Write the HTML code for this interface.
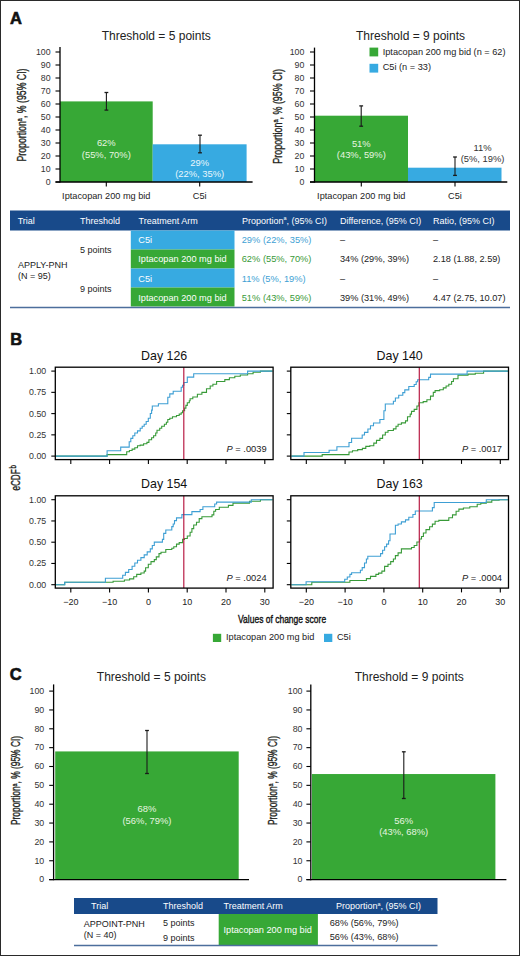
<!DOCTYPE html><html><head><meta charset="utf-8"><style>html,body{margin:0;padding:0;background:#fff;}svg{display:block;font-family:"Liberation Sans",sans-serif;}</style></head><body>
<svg width="520" height="956" viewBox="0 0 520 956">
<rect x="0" y="0" width="520" height="956" fill="#fff"/>
<text x="10" y="23.7" font-size="16.5" text-anchor="start" fill="#111" font-weight="bold" stroke="#111" stroke-width="0.6">A</text>
<line x1="55.5" y1="182.0" x2="60" y2="182.0" stroke="#000" stroke-width="1.1"/>
<text x="50.6" y="184.8" font-size="8.8" text-anchor="end" fill="#333" font-weight="normal" >0</text>
<line x1="55.5" y1="169.0" x2="60" y2="169.0" stroke="#000" stroke-width="1.1"/>
<text x="50.6" y="171.8" font-size="8.8" text-anchor="end" fill="#333" font-weight="normal" >10</text>
<line x1="55.5" y1="156.0" x2="60" y2="156.0" stroke="#000" stroke-width="1.1"/>
<text x="50.6" y="158.8" font-size="8.8" text-anchor="end" fill="#333" font-weight="normal" >20</text>
<line x1="55.5" y1="143.0" x2="60" y2="143.0" stroke="#000" stroke-width="1.1"/>
<text x="50.6" y="145.8" font-size="8.8" text-anchor="end" fill="#333" font-weight="normal" >30</text>
<line x1="55.5" y1="130.0" x2="60" y2="130.0" stroke="#000" stroke-width="1.1"/>
<text x="50.6" y="132.8" font-size="8.8" text-anchor="end" fill="#333" font-weight="normal" >40</text>
<line x1="55.5" y1="117.0" x2="60" y2="117.0" stroke="#000" stroke-width="1.1"/>
<text x="50.6" y="119.8" font-size="8.8" text-anchor="end" fill="#333" font-weight="normal" >50</text>
<line x1="55.5" y1="104.0" x2="60" y2="104.0" stroke="#000" stroke-width="1.1"/>
<text x="50.6" y="106.8" font-size="8.8" text-anchor="end" fill="#333" font-weight="normal" >60</text>
<line x1="55.5" y1="91.0" x2="60" y2="91.0" stroke="#000" stroke-width="1.1"/>
<text x="50.6" y="93.8" font-size="8.8" text-anchor="end" fill="#333" font-weight="normal" >70</text>
<line x1="55.5" y1="78.0" x2="60" y2="78.0" stroke="#000" stroke-width="1.1"/>
<text x="50.6" y="80.8" font-size="8.8" text-anchor="end" fill="#333" font-weight="normal" >80</text>
<line x1="55.5" y1="65.0" x2="60" y2="65.0" stroke="#000" stroke-width="1.1"/>
<text x="50.6" y="67.8" font-size="8.8" text-anchor="end" fill="#333" font-weight="normal" >90</text>
<line x1="55.5" y1="52.0" x2="60" y2="52.0" stroke="#000" stroke-width="1.1"/>
<text x="50.6" y="54.8" font-size="8.8" text-anchor="end" fill="#333" font-weight="normal" >100</text>
<rect x="60" y="101.39999999999999" width="92.69999999999999" height="80.60000000000001" fill="#37a836"/>
<rect x="152.7" y="144.3" width="93.9" height="37.69999999999999" fill="#37aae1"/>
<line x1="106.4" y1="92.5" x2="106.4" y2="110.1" stroke="#1a1a1a" stroke-width="1.1"/>
<line x1="104.5" y1="92.5" x2="108.30000000000001" y2="92.5" stroke="#1a1a1a" stroke-width="1.3"/>
<line x1="104.5" y1="110.1" x2="108.30000000000001" y2="110.1" stroke="#1a1a1a" stroke-width="1.3"/>
<line x1="200" y1="135.2" x2="200" y2="152.8" stroke="#1a1a1a" stroke-width="1.1"/>
<line x1="198.1" y1="135.2" x2="201.9" y2="135.2" stroke="#1a1a1a" stroke-width="1.3"/>
<line x1="198.1" y1="152.8" x2="201.9" y2="152.8" stroke="#1a1a1a" stroke-width="1.3"/>
<line x1="60" y1="47" x2="60" y2="182.6" stroke="#000" stroke-width="1.3"/>
<line x1="55.5" y1="182" x2="252.6" y2="182" stroke="#000" stroke-width="1.3"/>
<text x="156.2" y="39.6" font-size="12" text-anchor="middle" fill="#222" font-weight="normal" >Threshold = 5 points</text>
<line x1="106.3" y1="182" x2="106.3" y2="186.5" stroke="#000" stroke-width="1.1"/>
<line x1="199.7" y1="182" x2="199.7" y2="186.5" stroke="#000" stroke-width="1.1"/>
<text x="106.3" y="198.5" font-size="9.2" text-anchor="middle" fill="#222" font-weight="normal" >Iptacopan 200 mg bid</text>
<text x="199.7" y="198.5" font-size="9.2" text-anchor="middle" fill="#222" font-weight="normal" >C5i</text>
<text x="106.3" y="146.3" font-size="9.4" text-anchor="middle" fill="#e8f5e0" font-weight="normal" >62%</text>
<text x="106.3" y="157.9" font-size="9.4" text-anchor="middle" fill="#e8f5e0" font-weight="normal" >(55%, 70%)</text>
<text x="199.7" y="165.5" font-size="9.4" text-anchor="middle" fill="#eaf6fc" font-weight="normal" >29%</text>
<text x="199.7" y="177.0" font-size="9.4" text-anchor="middle" fill="#eaf6fc" font-weight="normal" >(22%, 35%)</text>
<text transform="translate(25.8,115) rotate(-90) scale(0.73,1)" font-size="12" text-anchor="middle" fill="#231f20" stroke="#231f20" stroke-width="0.35">Proportion<tspan font-size="7.5" dy="-3.8">a</tspan><tspan dy="3.8">, % (95% CI)</tspan></text>
<line x1="310" y1="182.0" x2="314.5" y2="182.0" stroke="#000" stroke-width="1.1"/>
<text x="304.4" y="184.8" font-size="8.8" text-anchor="end" fill="#333" font-weight="normal" >0</text>
<line x1="310" y1="169.0" x2="314.5" y2="169.0" stroke="#000" stroke-width="1.1"/>
<text x="304.4" y="171.8" font-size="8.8" text-anchor="end" fill="#333" font-weight="normal" >10</text>
<line x1="310" y1="156.0" x2="314.5" y2="156.0" stroke="#000" stroke-width="1.1"/>
<text x="304.4" y="158.8" font-size="8.8" text-anchor="end" fill="#333" font-weight="normal" >20</text>
<line x1="310" y1="143.0" x2="314.5" y2="143.0" stroke="#000" stroke-width="1.1"/>
<text x="304.4" y="145.8" font-size="8.8" text-anchor="end" fill="#333" font-weight="normal" >30</text>
<line x1="310" y1="130.0" x2="314.5" y2="130.0" stroke="#000" stroke-width="1.1"/>
<text x="304.4" y="132.8" font-size="8.8" text-anchor="end" fill="#333" font-weight="normal" >40</text>
<line x1="310" y1="117.0" x2="314.5" y2="117.0" stroke="#000" stroke-width="1.1"/>
<text x="304.4" y="119.8" font-size="8.8" text-anchor="end" fill="#333" font-weight="normal" >50</text>
<line x1="310" y1="104.0" x2="314.5" y2="104.0" stroke="#000" stroke-width="1.1"/>
<text x="304.4" y="106.8" font-size="8.8" text-anchor="end" fill="#333" font-weight="normal" >60</text>
<line x1="310" y1="91.0" x2="314.5" y2="91.0" stroke="#000" stroke-width="1.1"/>
<text x="304.4" y="93.8" font-size="8.8" text-anchor="end" fill="#333" font-weight="normal" >70</text>
<line x1="310" y1="78.0" x2="314.5" y2="78.0" stroke="#000" stroke-width="1.1"/>
<text x="304.4" y="80.8" font-size="8.8" text-anchor="end" fill="#333" font-weight="normal" >80</text>
<line x1="310" y1="65.0" x2="314.5" y2="65.0" stroke="#000" stroke-width="1.1"/>
<text x="304.4" y="67.8" font-size="8.8" text-anchor="end" fill="#333" font-weight="normal" >90</text>
<line x1="310" y1="52.0" x2="314.5" y2="52.0" stroke="#000" stroke-width="1.1"/>
<text x="304.4" y="54.8" font-size="8.8" text-anchor="end" fill="#333" font-weight="normal" >100</text>
<rect x="314.5" y="115.7" width="93.5" height="66.3" fill="#37a836"/>
<rect x="408" y="167.7" width="93.5" height="14.300000000000011" fill="#37aae1"/>
<line x1="361.2" y1="105.9" x2="361.2" y2="126.2" stroke="#1a1a1a" stroke-width="1.1"/>
<line x1="359.3" y1="105.9" x2="363.09999999999997" y2="105.9" stroke="#1a1a1a" stroke-width="1.3"/>
<line x1="359.3" y1="126.2" x2="363.09999999999997" y2="126.2" stroke="#1a1a1a" stroke-width="1.3"/>
<line x1="455" y1="157" x2="455" y2="175.4" stroke="#1a1a1a" stroke-width="1.1"/>
<line x1="453.1" y1="157" x2="456.9" y2="157" stroke="#1a1a1a" stroke-width="1.3"/>
<line x1="453.1" y1="175.4" x2="456.9" y2="175.4" stroke="#1a1a1a" stroke-width="1.3"/>
<line x1="314.5" y1="47.6" x2="314.5" y2="182.6" stroke="#000" stroke-width="1.3"/>
<line x1="310" y1="182" x2="507.3" y2="182" stroke="#000" stroke-width="1.3"/>
<text x="410.5" y="39.5" font-size="12" text-anchor="middle" fill="#222" font-weight="normal" >Threshold = 9 points</text>
<line x1="361.3" y1="182" x2="361.3" y2="186.5" stroke="#000" stroke-width="1.1"/>
<line x1="455" y1="182" x2="455" y2="186.5" stroke="#000" stroke-width="1.1"/>
<text x="361.3" y="198.5" font-size="9.2" text-anchor="middle" fill="#222" font-weight="normal" >Iptacopan 200 mg bid</text>
<text x="455" y="198.5" font-size="9.2" text-anchor="middle" fill="#222" font-weight="normal" >C5i</text>
<text x="361.3" y="146.8" font-size="9.4" text-anchor="middle" fill="#e8f5e0" font-weight="normal" >51%</text>
<text x="361.3" y="158.3" font-size="9.4" text-anchor="middle" fill="#e8f5e0" font-weight="normal" >(43%, 59%)</text>
<text x="482.6" y="150.9" font-size="9.4" text-anchor="middle" fill="#333" font-weight="normal" >11%</text>
<text x="482.6" y="162.1" font-size="9.4" text-anchor="middle" fill="#333" font-weight="normal" >(5%, 19%)</text>
<text transform="translate(281.8,116.3) rotate(-90) scale(0.743,1)" font-size="12" text-anchor="middle" fill="#231f20" stroke="#231f20" stroke-width="0.35">Proportion<tspan font-size="7.5" dy="-3.8">a</tspan><tspan dy="3.8">, % (95% CI)</tspan></text>
<rect x="369.5" y="47.6" width="8.7" height="8.8" fill="#37a836"/>
<rect x="369.5" y="63.8" width="8.7" height="8.8" fill="#37aae1"/>
<text x="382.7" y="54.9" font-size="9.2" text-anchor="start" fill="#222" font-weight="normal" >Iptacopan 200 mg bid (n = 62)</text>
<text x="382.7" y="70.0" font-size="9.2" text-anchor="start" fill="#222" font-weight="normal" >C5i (n = 33)</text>
<rect x="10" y="210.5" width="500" height="20" fill="#184a8a"/>
<text x="17.7" y="223.8" font-size="9" text-anchor="start" fill="#ffffff" font-weight="normal" >Trial</text>
<text x="80" y="223.8" font-size="9" text-anchor="start" fill="#ffffff" font-weight="normal" >Threshold</text>
<text x="138.5" y="223.8" font-size="9" text-anchor="start" fill="#ffffff" font-weight="normal" >Treatment Arm</text>
<text x="242" y="223.8" font-size="9" text-anchor="start" fill="#ffffff" font-weight="normal" >Proportion<tspan font-size="5.5" dy="-3.5">a</tspan><tspan dy="3.5">, (95% CI)</tspan></text>
<text x="340" y="223.8" font-size="9" text-anchor="start" fill="#ffffff" font-weight="normal" >Difference, (95% CI)</text>
<text x="433" y="223.8" font-size="9" text-anchor="start" fill="#ffffff" font-weight="normal" >Ratio, (95% CI)</text>
<rect x="130.8" y="230.5" width="103.7" height="19.0" fill="#37aae1"/>
<text x="138.3" y="243.2" font-size="9.2" text-anchor="start" fill="#ffffff" font-weight="normal" >C5i</text>
<rect x="130.8" y="249.5" width="103.7" height="19.0" fill="#37a836"/>
<text x="138.3" y="262.3" font-size="9.2" text-anchor="start" fill="#ffffff" font-weight="normal" >Iptacopan 200 mg bid</text>
<rect x="130.8" y="268.5" width="103.7" height="19.0" fill="#37aae1"/>
<text x="138.3" y="281.8" font-size="9.2" text-anchor="start" fill="#ffffff" font-weight="normal" >C5i</text>
<rect x="130.8" y="287.5" width="103.7" height="19.0" fill="#37a836"/>
<text x="138.3" y="301.0" font-size="9.2" text-anchor="start" fill="#ffffff" font-weight="normal" >Iptacopan 200 mg bid</text>
<text x="241.7" y="243.2" font-size="9.3" text-anchor="start" fill="#3e9fd4" font-weight="normal" >29% (22%, 35%)</text>
<text x="241.7" y="262.3" font-size="9.3" text-anchor="start" fill="#389a38" font-weight="normal" >62% (55%, 70%)</text>
<text x="241.7" y="281.8" font-size="9.3" text-anchor="start" fill="#3e9fd4" font-weight="normal" >11% (5%, 19%)</text>
<text x="241.7" y="301.0" font-size="9.3" text-anchor="start" fill="#389a38" font-weight="normal" >51% (43%, 59%)</text>
<text x="340" y="243.2" font-size="9.2" text-anchor="start" fill="#222" font-weight="normal" >–</text>
<text x="433" y="243.2" font-size="9.2" text-anchor="start" fill="#222" font-weight="normal" >–</text>
<text x="340" y="262.3" font-size="9.2" text-anchor="start" fill="#222" font-weight="normal" >34% (29%, 39%)</text>
<text x="433" y="262.3" font-size="9.2" text-anchor="start" fill="#222" font-weight="normal" >2.18 (1.88, 2.59)</text>
<text x="340" y="281.8" font-size="9.2" text-anchor="start" fill="#222" font-weight="normal" >–</text>
<text x="433" y="281.8" font-size="9.2" text-anchor="start" fill="#222" font-weight="normal" >–</text>
<text x="340" y="301.0" font-size="9.2" text-anchor="start" fill="#222" font-weight="normal" >39% (31%, 49%)</text>
<text x="433" y="301.0" font-size="9.2" text-anchor="start" fill="#222" font-weight="normal" >4.47 (2.75, 10.07)</text>
<text x="18" y="267.6" font-size="9" text-anchor="start" fill="#222" font-weight="normal" >APPLY-PNH</text>
<text x="18" y="278.8" font-size="9" text-anchor="start" fill="#222" font-weight="normal" >(N = 95)</text>
<text x="80" y="253.0" font-size="9" text-anchor="start" fill="#222" font-weight="normal" >5 points</text>
<text x="80" y="291.6" font-size="9" text-anchor="start" fill="#222" font-weight="normal" >9 points</text>
<line x1="10" y1="307.6" x2="510" y2="307.6" stroke="#4c6e9c" stroke-width="1.5"/>
<text x="10.3" y="344.6" font-size="16.5" text-anchor="start" fill="#111" font-weight="bold" stroke="#111" stroke-width="0.6">B</text>
<text x="164.20000000000002" y="359.5" font-size="12.4" text-anchor="middle" fill="#111" font-weight="normal" >Day 126</text>
<line x1="51.3" y1="456.1" x2="55.3" y2="456.1" stroke="#000" stroke-width="1.1"/>
<text x="46.2" y="459.0" font-size="8.8" text-anchor="end" fill="#333" font-weight="normal" >0.00</text>
<line x1="51.3" y1="434.85" x2="55.3" y2="434.85" stroke="#000" stroke-width="1.1"/>
<text x="46.2" y="437.75" font-size="8.8" text-anchor="end" fill="#333" font-weight="normal" >0.25</text>
<line x1="51.3" y1="413.6" x2="55.3" y2="413.6" stroke="#000" stroke-width="1.1"/>
<text x="46.2" y="416.5" font-size="8.8" text-anchor="end" fill="#333" font-weight="normal" >0.50</text>
<line x1="51.3" y1="392.35" x2="55.3" y2="392.35" stroke="#000" stroke-width="1.1"/>
<text x="46.2" y="395.25" font-size="8.8" text-anchor="end" fill="#333" font-weight="normal" >0.75</text>
<line x1="51.3" y1="371.1" x2="55.3" y2="371.1" stroke="#000" stroke-width="1.1"/>
<text x="46.2" y="374.0" font-size="8.8" text-anchor="end" fill="#333" font-weight="normal" >1.00</text>
<line x1="70.80000000000001" y1="459.6" x2="70.80000000000001" y2="463.90000000000003" stroke="#000" stroke-width="1.1"/>
<line x1="109.60000000000001" y1="459.6" x2="109.60000000000001" y2="463.90000000000003" stroke="#000" stroke-width="1.1"/>
<line x1="148.4" y1="459.6" x2="148.4" y2="463.90000000000003" stroke="#000" stroke-width="1.1"/>
<line x1="187.2" y1="459.6" x2="187.2" y2="463.90000000000003" stroke="#000" stroke-width="1.1"/>
<line x1="226.0" y1="459.6" x2="226.0" y2="463.90000000000003" stroke="#000" stroke-width="1.1"/>
<line x1="264.8" y1="459.6" x2="264.8" y2="463.90000000000003" stroke="#000" stroke-width="1.1"/>
<path d="M55.9,456.1 H107.1 V454.6 H126.7 V451.8 H129.4 V450.5 H132.1 V449.1 H134.8 V447.8 H137.5 V445.8 H140.2 V445.1 H143.6 V443.7 H146.9 V442.4 H148.9 V439.7 H151.6 V437.7 H153.6 V435.7 H155.7 V433 H157 V430.3 H159.7 V428.3 H161.7 V426.2 H164.4 V424.2 H166.4 V422.2 H167.8 V419.5 H169.8 V418.2 H172.5 V416.8 H176.5 V415.5 H179.2 V414.1 H181.2 V412.8 H182.6 V410.8 H184.6 V408.1 H185.9 V405.4 H187.3 V402.7 H189.3 V400.7 H190.1 V398.8 H192.8 V397 H197.4 V394.3 H201.9 V392.4 H206.5 V388.8 H210.2 V386 H212.9 V384.2 H216.6 V381.5 H224.8 V379.6 H229.4 V377.8 H234.8 V376.3 H240.3 V375 H247.6 V373.8 H253.1 V372.3 H260.4 V371.1 H272.5" fill="none" stroke="#389a38" stroke-width="1.1"/>
<path d="M55.9,456.1 H107.1 V450.8 H120.7 V447.1 H129.2 V441.7 H130.8 V438.4 H132.8 V435.7 H134.8 V433 H137.5 V430.9 H140.2 V428.3 H142.2 V426.2 H144.2 V424.2 H146.2 V421.5 H148.3 V418.2 H150.3 V413.5 H151.6 V410.1 H152.3 V406 H158.4 V403.8 H167.8 V397.3 H169.8 V393.9 H173.2 V391.2 H181.2 V387.2 H182.6 V385.2 H183.9 V382.5 H187.3 V377.1 H193.7 V373.8 H247.6 V371.1 H272.5" fill="none" stroke="#3e9fd4" stroke-width="1.1"/>
<line x1="183.8" y1="367.2" x2="183.8" y2="459.6" stroke="#b81c45" stroke-width="1.2"/>
<rect x="55.3" y="367.2" width="217.8" height="92.40000000000003" fill="none" stroke="#000" stroke-width="1.3"/>
<text x="266.6" y="452.0" font-size="9.3" text-anchor="end" fill="#222" font-weight="normal" ><tspan font-style="italic">P</tspan> = .0039</text>
<text x="399.65" y="359.5" font-size="12.4" text-anchor="middle" fill="#111" font-weight="normal" >Day 140</text>
<line x1="286.8" y1="456.1" x2="290.8" y2="456.1" stroke="#000" stroke-width="1.1"/>
<line x1="286.8" y1="434.85" x2="290.8" y2="434.85" stroke="#000" stroke-width="1.1"/>
<line x1="286.8" y1="413.6" x2="290.8" y2="413.6" stroke="#000" stroke-width="1.1"/>
<line x1="286.8" y1="392.35" x2="290.8" y2="392.35" stroke="#000" stroke-width="1.1"/>
<line x1="286.8" y1="371.1" x2="290.8" y2="371.1" stroke="#000" stroke-width="1.1"/>
<line x1="306.29999999999995" y1="459.6" x2="306.29999999999995" y2="463.90000000000003" stroke="#000" stroke-width="1.1"/>
<line x1="345.09999999999997" y1="459.6" x2="345.09999999999997" y2="463.90000000000003" stroke="#000" stroke-width="1.1"/>
<line x1="383.9" y1="459.6" x2="383.9" y2="463.90000000000003" stroke="#000" stroke-width="1.1"/>
<line x1="422.7" y1="459.6" x2="422.7" y2="463.90000000000003" stroke="#000" stroke-width="1.1"/>
<line x1="461.5" y1="459.6" x2="461.5" y2="463.90000000000003" stroke="#000" stroke-width="1.1"/>
<line x1="500.29999999999995" y1="459.6" x2="500.29999999999995" y2="463.90000000000003" stroke="#000" stroke-width="1.1"/>
<path d="M291.40000000000003,456.1 H322.2 V454.6 H349 V452 H352.5 V450.8 H357.7 V449.6 H362.4 V448.4 H365.8 V446.4 H369.8 V445.8 H373.8 V443.1 H376.5 V440.4 H379.9 V438.4 H382.6 V435 H385.3 V432.3 H388 V430.5 H393.4 V428.9 H396 V426.2 H398.1 V424.2 H401.4 V422.9 H405.5 V420.9 H407.5 V416.8 H410.2 V414.1 H411.5 V411.4 H414.2 V409.4 H416.9 V406 H418.9 V402.7 H423.2 V401.6 H426.9 V399.7 H430.5 V396.1 H433.3 V392.4 H435.1 V390.6 H439.7 V389.7 H443.3 V387.9 H446.1 V386 H448.8 V384.2 H451.6 V381.5 H453.4 V378.7 H458 V375.1 H468 V374.1 H475.3 V373.2 H483.6 V371.1 H507.9" fill="none" stroke="#389a38" stroke-width="1.1"/>
<path d="M291.40000000000003,456.1 H304 V452.5 H329.1 V450.3 H336.9 V446.8 H349 V442.5 H351.6 V438.2 H362.2 V435 H364.5 V432.4 H367.9 V429 H370.5 V425.8 H373.5 V423 H379.9 V419.5 H383.9 V410.8 H385.3 V404 H393.4 V401.3 H395.4 V398 H398.7 V395.3 H402.8 V392.6 H404.8 V389.9 H408.8 V386.5 H414.2 V384.5 H416.2 V381.8 H417.6 V379.8 H428.7 V377.4 H430.5 V374.1 H467.1 V371.1 H507.9" fill="none" stroke="#3e9fd4" stroke-width="1.1"/>
<line x1="419.29999999999995" y1="367.2" x2="419.29999999999995" y2="459.6" stroke="#b81c45" stroke-width="1.2"/>
<rect x="290.8" y="367.2" width="217.7" height="92.40000000000003" fill="none" stroke="#000" stroke-width="1.3"/>
<text x="502.0" y="452.0" font-size="9.3" text-anchor="end" fill="#222" font-weight="normal" ><tspan font-style="italic">P</tspan> = .0017</text>
<text x="164.20000000000002" y="488.1" font-size="12.4" text-anchor="middle" fill="#111" font-weight="normal" >Day 154</text>
<line x1="51.3" y1="584.7" x2="55.3" y2="584.7" stroke="#000" stroke-width="1.1"/>
<text x="46.2" y="587.6" font-size="8.8" text-anchor="end" fill="#333" font-weight="normal" >0.00</text>
<line x1="51.3" y1="563.45" x2="55.3" y2="563.45" stroke="#000" stroke-width="1.1"/>
<text x="46.2" y="566.35" font-size="8.8" text-anchor="end" fill="#333" font-weight="normal" >0.25</text>
<line x1="51.3" y1="542.2" x2="55.3" y2="542.2" stroke="#000" stroke-width="1.1"/>
<text x="46.2" y="545.1" font-size="8.8" text-anchor="end" fill="#333" font-weight="normal" >0.50</text>
<line x1="51.3" y1="520.95" x2="55.3" y2="520.95" stroke="#000" stroke-width="1.1"/>
<text x="46.2" y="523.85" font-size="8.8" text-anchor="end" fill="#333" font-weight="normal" >0.75</text>
<line x1="51.3" y1="499.7" x2="55.3" y2="499.7" stroke="#000" stroke-width="1.1"/>
<text x="46.2" y="502.6" font-size="8.8" text-anchor="end" fill="#333" font-weight="normal" >1.00</text>
<line x1="70.80000000000001" y1="588.1" x2="70.80000000000001" y2="592.4" stroke="#000" stroke-width="1.1"/>
<text x="70.80000000000001" y="605.3" font-size="9" text-anchor="middle" fill="#222" font-weight="normal" >−20</text>
<line x1="109.60000000000001" y1="588.1" x2="109.60000000000001" y2="592.4" stroke="#000" stroke-width="1.1"/>
<text x="109.60000000000001" y="605.3" font-size="9" text-anchor="middle" fill="#222" font-weight="normal" >−10</text>
<line x1="148.4" y1="588.1" x2="148.4" y2="592.4" stroke="#000" stroke-width="1.1"/>
<text x="148.4" y="605.3" font-size="9" text-anchor="middle" fill="#222" font-weight="normal" >0</text>
<line x1="187.2" y1="588.1" x2="187.2" y2="592.4" stroke="#000" stroke-width="1.1"/>
<text x="187.2" y="605.3" font-size="9" text-anchor="middle" fill="#222" font-weight="normal" >10</text>
<line x1="226.0" y1="588.1" x2="226.0" y2="592.4" stroke="#000" stroke-width="1.1"/>
<text x="226.0" y="605.3" font-size="9" text-anchor="middle" fill="#222" font-weight="normal" >20</text>
<line x1="264.8" y1="588.1" x2="264.8" y2="592.4" stroke="#000" stroke-width="1.1"/>
<text x="264.8" y="605.3" font-size="9" text-anchor="middle" fill="#222" font-weight="normal" >30</text>
<path d="M55.9,584.7 H64.7 V582.2 H113.1 V581.3 H124.4 V580 H129.6 V578.9 H133.7 V576.8 H136.7 V574.4 H140.9 V573 H144.2 V571.1 H145.6 V567.7 H148.3 V564.3 H151 V561.6 H154.3 V559.6 H156.3 V556.9 H159 V553.6 H161 V552.2 H165.8 V549.5 H171.8 V548.2 H173.8 V546.8 H176.5 V544.1 H179.2 V542.6 H182.6 V539.4 H184.5 V538.5 H187.3 V536 H190.1 V532.3 H191.9 V528.6 H193.7 V525 H196.5 V522.3 H199.2 V518.6 H201.9 V516.8 H212 V514.9 H213.8 V511.3 H215.6 V509.5 H219.3 V507.3 H228.4 V505.4 H233 V503.1 H249.5 V501.2 H260.4 V499.7 H272.5" fill="none" stroke="#389a38" stroke-width="1.1"/>
<path d="M55.9,584.7 H64.7 V582.2 H105.4 V578.2 H122.7 V575.2 H125.4 V572.4 H128.7 V569.5 H132.1 V566.3 H134.8 V563 H137.5 V560.3 H140.9 V557.6 H144.2 V554.9 H147.2 V551.9 H150.3 V548.9 H152.3 V545.5 H154.3 V542.1 H162.4 V539.4 H163.7 V533.4 H165.8 V530 H171.8 V526.6 H173.2 V524 H174.5 V520.6 H176.5 V517.9 H181.9 V514.6 H191.9 V511.6 H200.1 V509.5 H202.9 V506.7 H214.7 V504 H216.6 V502.1 H251.3 V499.7 H272.5" fill="none" stroke="#3e9fd4" stroke-width="1.1"/>
<line x1="183.8" y1="495.8" x2="183.8" y2="588.1" stroke="#b81c45" stroke-width="1.2"/>
<rect x="55.3" y="495.8" width="217.8" height="92.30000000000001" fill="none" stroke="#000" stroke-width="1.3"/>
<text x="266.6" y="580.5" font-size="9.3" text-anchor="end" fill="#222" font-weight="normal" ><tspan font-style="italic">P</tspan> = .0024</text>
<text x="399.65" y="488.1" font-size="12.4" text-anchor="middle" fill="#111" font-weight="normal" >Day 163</text>
<line x1="286.8" y1="584.7" x2="290.8" y2="584.7" stroke="#000" stroke-width="1.1"/>
<line x1="286.8" y1="563.45" x2="290.8" y2="563.45" stroke="#000" stroke-width="1.1"/>
<line x1="286.8" y1="542.2" x2="290.8" y2="542.2" stroke="#000" stroke-width="1.1"/>
<line x1="286.8" y1="520.95" x2="290.8" y2="520.95" stroke="#000" stroke-width="1.1"/>
<line x1="286.8" y1="499.7" x2="290.8" y2="499.7" stroke="#000" stroke-width="1.1"/>
<line x1="306.29999999999995" y1="588.1" x2="306.29999999999995" y2="592.4" stroke="#000" stroke-width="1.1"/>
<text x="306.29999999999995" y="605.3" font-size="9" text-anchor="middle" fill="#222" font-weight="normal" >−20</text>
<line x1="345.09999999999997" y1="588.1" x2="345.09999999999997" y2="592.4" stroke="#000" stroke-width="1.1"/>
<text x="345.09999999999997" y="605.3" font-size="9" text-anchor="middle" fill="#222" font-weight="normal" >−10</text>
<line x1="383.9" y1="588.1" x2="383.9" y2="592.4" stroke="#000" stroke-width="1.1"/>
<text x="383.9" y="605.3" font-size="9" text-anchor="middle" fill="#222" font-weight="normal" >0</text>
<line x1="422.7" y1="588.1" x2="422.7" y2="592.4" stroke="#000" stroke-width="1.1"/>
<text x="422.7" y="605.3" font-size="9" text-anchor="middle" fill="#222" font-weight="normal" >10</text>
<line x1="461.5" y1="588.1" x2="461.5" y2="592.4" stroke="#000" stroke-width="1.1"/>
<text x="461.5" y="605.3" font-size="9" text-anchor="middle" fill="#222" font-weight="normal" >20</text>
<line x1="500.29999999999995" y1="588.1" x2="500.29999999999995" y2="592.4" stroke="#000" stroke-width="1.1"/>
<text x="500.29999999999995" y="605.3" font-size="9" text-anchor="middle" fill="#222" font-weight="normal" >30</text>
<path d="M291.40000000000003,584.7 H311.8 V582.2 H349.9 V580.5 H366.4 V578.6 H370.5 V576.4 H375.9 V574.4 H378.6 V573.1 H381.9 V571.1 H384.6 V566.4 H388 V564.3 H390.7 V561.6 H393.4 V559 H395.4 V555.6 H398.1 V552.9 H401.4 V548.9 H411.5 V547.5 H414.2 V545.5 H416.9 V542 H419.6 V539 H421.5 V536.5 H423.4 V533 H426 V529.6 H429.6 V526.8 H432.4 V524.1 H435.1 V521.3 H438.8 V520.4 H448.8 V517.7 H452.5 V514.9 H456.1 V511.3 H458.9 V509.1 H463.4 V508 H469.8 V506.7 H477.2 V504.3 H480.8 V503.1 H486.3 V502.1 H491.8 V500.3 H499.1 V499.7 H507.9" fill="none" stroke="#389a38" stroke-width="1.1"/>
<path d="M291.40000000000003,584.7 H306.1 V581.7 H344.7 V579.3 H347.3 V577 H349.9 V574.4 H351.6 V572.8 H360.4 V570.2 H362.2 V567.6 H364.5 V563 H366.4 V559 H367.8 V556.3 H380.6 V553.6 H382.6 V550.2 H384.6 V546.8 H386.6 V544.1 H388.6 V540.8 H390 V534 H395.4 V525.3 H398.1 V524 H401.4 V521.9 H405.5 V519.9 H408.8 V517.2 H412.9 V514.5 H415.3 V511 H432.4 V507.6 H434.2 V502.5 H486.3 V499.7 H507.9" fill="none" stroke="#3e9fd4" stroke-width="1.1"/>
<line x1="419.29999999999995" y1="495.8" x2="419.29999999999995" y2="588.1" stroke="#b81c45" stroke-width="1.2"/>
<rect x="290.8" y="495.8" width="217.7" height="92.30000000000001" fill="none" stroke="#000" stroke-width="1.3"/>
<text x="502.0" y="580.5" font-size="9.3" text-anchor="end" fill="#222" font-weight="normal" ><tspan font-style="italic">P</tspan> = .0004</text>
<text transform="translate(20.4,477.8) rotate(-90) scale(0.68,1)" font-size="12" text-anchor="middle" fill="#231f20" stroke="#231f20" stroke-width="0.35">eCDF<tspan font-size="9" dy="-4" dx="1.2">b</tspan></text>
<text transform="translate(282.1,622.6) scale(0.72,1)" font-size="11.8" text-anchor="middle" fill="#111" stroke="#111" stroke-width="0.4">Values of change score</text>
<rect x="212.9" y="633.8" width="8.3" height="8.2" fill="#37a836"/>
<text x="226" y="640.4" font-size="9.2" text-anchor="start" fill="#222" font-weight="normal" >Iptacopan 200 mg bid</text>
<rect x="324" y="633.8" width="8.3" height="8.2" fill="#37aae1"/>
<text x="336.9" y="640.4" font-size="9.2" text-anchor="start" fill="#222" font-weight="normal" >C5i</text>
<text x="9.8" y="679.9" font-size="16.5" text-anchor="start" fill="#111" font-weight="bold" stroke="#111" stroke-width="0.6">C</text>
<line x1="49.2" y1="879.6" x2="53.6" y2="879.6" stroke="#000" stroke-width="1.1"/>
<text x="44.2" y="882.4" font-size="8.8" text-anchor="end" fill="#333" font-weight="normal" >0</text>
<line x1="49.2" y1="860.75" x2="53.6" y2="860.75" stroke="#000" stroke-width="1.1"/>
<text x="44.2" y="863.55" font-size="8.8" text-anchor="end" fill="#333" font-weight="normal" >10</text>
<line x1="49.2" y1="841.9" x2="53.6" y2="841.9" stroke="#000" stroke-width="1.1"/>
<text x="44.2" y="844.7" font-size="8.8" text-anchor="end" fill="#333" font-weight="normal" >20</text>
<line x1="49.2" y1="823.0500000000001" x2="53.6" y2="823.0500000000001" stroke="#000" stroke-width="1.1"/>
<text x="44.2" y="825.85" font-size="8.8" text-anchor="end" fill="#333" font-weight="normal" >30</text>
<line x1="49.2" y1="804.2" x2="53.6" y2="804.2" stroke="#000" stroke-width="1.1"/>
<text x="44.2" y="807.0" font-size="8.8" text-anchor="end" fill="#333" font-weight="normal" >40</text>
<line x1="49.2" y1="785.35" x2="53.6" y2="785.35" stroke="#000" stroke-width="1.1"/>
<text x="44.2" y="788.15" font-size="8.8" text-anchor="end" fill="#333" font-weight="normal" >50</text>
<line x1="49.2" y1="766.5" x2="53.6" y2="766.5" stroke="#000" stroke-width="1.1"/>
<text x="44.2" y="769.3" font-size="8.8" text-anchor="end" fill="#333" font-weight="normal" >60</text>
<line x1="49.2" y1="747.6500000000001" x2="53.6" y2="747.6500000000001" stroke="#000" stroke-width="1.1"/>
<text x="44.2" y="750.45" font-size="8.8" text-anchor="end" fill="#333" font-weight="normal" >70</text>
<line x1="49.2" y1="728.8" x2="53.6" y2="728.8" stroke="#000" stroke-width="1.1"/>
<text x="44.2" y="731.6" font-size="8.8" text-anchor="end" fill="#333" font-weight="normal" >80</text>
<line x1="49.2" y1="709.95" x2="53.6" y2="709.95" stroke="#000" stroke-width="1.1"/>
<text x="44.2" y="712.75" font-size="8.8" text-anchor="end" fill="#333" font-weight="normal" >90</text>
<line x1="49.2" y1="691.1" x2="53.6" y2="691.1" stroke="#000" stroke-width="1.1"/>
<text x="44.2" y="693.9" font-size="8.8" text-anchor="end" fill="#333" font-weight="normal" >100</text>
<rect x="55.2" y="751.4200000000001" width="183.5" height="128.17999999999995" fill="#37a836"/>
<line x1="147" y1="730.5" x2="147" y2="773.5" stroke="#1a1a1a" stroke-width="1.1"/>
<line x1="145.1" y1="730.5" x2="148.9" y2="730.5" stroke="#1a1a1a" stroke-width="1.3"/>
<line x1="145.1" y1="773.5" x2="148.9" y2="773.5" stroke="#1a1a1a" stroke-width="1.3"/>
<line x1="53.6" y1="684.4" x2="53.6" y2="880.2" stroke="#000" stroke-width="1.3"/>
<line x1="49.2" y1="879.6" x2="249" y2="879.6" stroke="#000" stroke-width="1.3"/>
<text x="151.4" y="680.6" font-size="12" text-anchor="middle" fill="#222" font-weight="normal" >Threshold = 5 points</text>
<text x="147" y="812.3" font-size="9.4" text-anchor="middle" fill="#e8f5e0" font-weight="normal" >68%</text>
<text x="147" y="823.8" font-size="9.4" text-anchor="middle" fill="#e8f5e0" font-weight="normal" >(56%, 79%)</text>
<text transform="translate(20.3,780.5) rotate(-90) scale(0.7,1)" font-size="12" text-anchor="middle" fill="#231f20" stroke="#231f20" stroke-width="0.35">Proportion<tspan font-size="7.5" dy="-3.8">a</tspan><tspan dy="3.8">, % (95% CI)</tspan></text>
<line x1="306.4" y1="879.6" x2="310.8" y2="879.6" stroke="#000" stroke-width="1.1"/>
<text x="302.5" y="882.4" font-size="8.8" text-anchor="end" fill="#333" font-weight="normal" >0</text>
<line x1="306.4" y1="860.75" x2="310.8" y2="860.75" stroke="#000" stroke-width="1.1"/>
<text x="302.5" y="863.55" font-size="8.8" text-anchor="end" fill="#333" font-weight="normal" >10</text>
<line x1="306.4" y1="841.9" x2="310.8" y2="841.9" stroke="#000" stroke-width="1.1"/>
<text x="302.5" y="844.7" font-size="8.8" text-anchor="end" fill="#333" font-weight="normal" >20</text>
<line x1="306.4" y1="823.0500000000001" x2="310.8" y2="823.0500000000001" stroke="#000" stroke-width="1.1"/>
<text x="302.5" y="825.85" font-size="8.8" text-anchor="end" fill="#333" font-weight="normal" >30</text>
<line x1="306.4" y1="804.2" x2="310.8" y2="804.2" stroke="#000" stroke-width="1.1"/>
<text x="302.5" y="807.0" font-size="8.8" text-anchor="end" fill="#333" font-weight="normal" >40</text>
<line x1="306.4" y1="785.35" x2="310.8" y2="785.35" stroke="#000" stroke-width="1.1"/>
<text x="302.5" y="788.15" font-size="8.8" text-anchor="end" fill="#333" font-weight="normal" >50</text>
<line x1="306.4" y1="766.5" x2="310.8" y2="766.5" stroke="#000" stroke-width="1.1"/>
<text x="302.5" y="769.3" font-size="8.8" text-anchor="end" fill="#333" font-weight="normal" >60</text>
<line x1="306.4" y1="747.6500000000001" x2="310.8" y2="747.6500000000001" stroke="#000" stroke-width="1.1"/>
<text x="302.5" y="750.45" font-size="8.8" text-anchor="end" fill="#333" font-weight="normal" >70</text>
<line x1="306.4" y1="728.8" x2="310.8" y2="728.8" stroke="#000" stroke-width="1.1"/>
<text x="302.5" y="731.6" font-size="8.8" text-anchor="end" fill="#333" font-weight="normal" >80</text>
<line x1="306.4" y1="709.95" x2="310.8" y2="709.95" stroke="#000" stroke-width="1.1"/>
<text x="302.5" y="712.75" font-size="8.8" text-anchor="end" fill="#333" font-weight="normal" >90</text>
<line x1="306.4" y1="691.1" x2="310.8" y2="691.1" stroke="#000" stroke-width="1.1"/>
<text x="302.5" y="693.9" font-size="8.8" text-anchor="end" fill="#333" font-weight="normal" >100</text>
<rect x="311.9" y="774.04" width="183.5" height="105.56000000000006" fill="#37a836"/>
<line x1="403.8" y1="751.8" x2="403.8" y2="798.5" stroke="#1a1a1a" stroke-width="1.1"/>
<line x1="401.90000000000003" y1="751.8" x2="405.7" y2="751.8" stroke="#1a1a1a" stroke-width="1.3"/>
<line x1="401.90000000000003" y1="798.5" x2="405.7" y2="798.5" stroke="#1a1a1a" stroke-width="1.3"/>
<line x1="310.8" y1="684.4" x2="310.8" y2="880.2" stroke="#000" stroke-width="1.3"/>
<line x1="306.4" y1="879.6" x2="506.4" y2="879.6" stroke="#000" stroke-width="1.3"/>
<text x="409.2" y="680.6" font-size="12" text-anchor="middle" fill="#222" font-weight="normal" >Threshold = 9 points</text>
<text x="403.7" y="823.6" font-size="9.4" text-anchor="middle" fill="#e8f5e0" font-weight="normal" >56%</text>
<text x="403.7" y="835.2" font-size="9.4" text-anchor="middle" fill="#e8f5e0" font-weight="normal" >(43%, 68%)</text>
<text transform="translate(276.8,780.5) rotate(-90) scale(0.7,1)" font-size="12" text-anchor="middle" fill="#231f20" stroke="#231f20" stroke-width="0.35">Proportion<tspan font-size="7.5" dy="-3.8">a</tspan><tspan dy="3.8">, % (95% CI)</tspan></text>
<rect x="74" y="898" width="363.5" height="16" fill="#184a8a"/>
<text x="91" y="909.2" font-size="9" text-anchor="start" fill="#ffffff" font-weight="normal" >Trial</text>
<text x="162.9" y="909.2" font-size="9" text-anchor="start" fill="#ffffff" font-weight="normal" >Threshold</text>
<text x="223.5" y="909.2" font-size="9" text-anchor="start" fill="#ffffff" font-weight="normal" >Treatment Arm</text>
<text x="336" y="909.2" font-size="9" text-anchor="start" fill="#ffffff" font-weight="normal" >Proportion<tspan font-size="5.5" dy="-3.5">a</tspan><tspan dy="3.5">, (95% CI)</tspan></text>
<rect x="218.7" y="914" width="99.2" height="31.2" fill="#37a836"/>
<text x="223.5" y="933" font-size="9.2" text-anchor="start" fill="#ffffff" font-weight="normal" >Iptacopan 200 mg bid</text>
<text x="83.7" y="927" font-size="9" text-anchor="start" fill="#222" font-weight="normal" >APPOINT-PNH</text>
<text x="83.7" y="938.2" font-size="9" text-anchor="start" fill="#222" font-weight="normal" >(N = 40)</text>
<text x="162.9" y="925.8" font-size="9" text-anchor="start" fill="#222" font-weight="normal" >5 points</text>
<text x="162.9" y="940.5" font-size="9" text-anchor="start" fill="#222" font-weight="normal" >9 points</text>
<text x="329.7" y="925.5" font-size="9.2" text-anchor="start" fill="#222" font-weight="normal" >68% (56%, 79%)</text>
<text x="329.7" y="939.6" font-size="9.2" text-anchor="start" fill="#222" font-weight="normal" >56% (43%, 68%)</text>
<line x1="74" y1="945.6" x2="437.5" y2="945.6" stroke="#4c6e9c" stroke-width="1.5"/>
<rect x="0.5" y="0.5" width="519" height="955" fill="none" stroke="#2a2a2a" stroke-width="1"/>
</svg></body></html>
